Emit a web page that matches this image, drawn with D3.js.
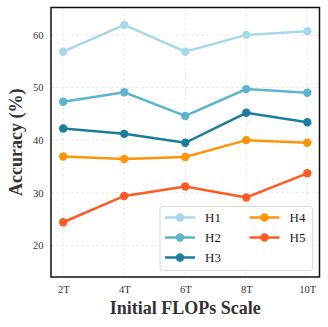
<!DOCTYPE html>
<html>
<head>
<meta charset="utf-8">
<script src="https://cdn.jsdelivr.net/npm/d3@7"></script>
<style>
  body { margin: 0; background: #fff; }
  svg { display: block; font-family: "Liberation Serif", "DejaVu Serif", serif; }
</style>
</head>
<body>
<svg id="chart" width="328" height="327"></svg>
<script>
const categories = ['2T', '4T', '6T', '8T', '10T'];
const seriesNames = ['H1', 'H2', 'H3', 'H4', 'H5'];
const h1 = [56.8, 61.9, 56.8, 60.0, 60.7];
const h2 = [47.3, 49.1, 44.6, 49.7, 49.0];
const h3 = [42.2, 41.2, 39.5, 45.2, 43.4];
const h4 = [36.9, 36.4, 36.8, 40.0, 39.5];
const h5 = [24.4, 29.4, 31.2, 29.1, 33.7];
const yTicks = [20, 30, 40, 50, 60];
const colors = ['#a6d8ea', '#5cb5cc', '#1a7d9c', '#ff9408', '#ff5a24'];

const series = [h1, h2, h3, h4, h5].map((values, i) => ({ name: seriesNames[i], values, color: colors[i] }));

const margin = { top: 7.5, right: 8.5, bottom: 50, left: 51 };
const svg = d3.select('#chart');
const width = 328 - margin.left - margin.right;
const height = 327 - margin.top - margin.bottom;

const g = svg.append('g')
  .attr('transform', `translate(${margin.left},${margin.top})`);

const x = d3.scaleLinear()
  .domain([-0.2, categories.length - 1 + 0.2])
  .range([0, width]);
const y = d3.scaleLinear()
  .domain([14, 65.2])
  .range([height, 0]);

// Grid
g.append('g')
  .selectAll('line.gx')
  .data(categories)
  .join('line')
  .attr('x1', (d, i) => x(i)).attr('x2', (d, i) => x(i))
  .attr('y1', 0).attr('y2', height)
  .attr('stroke', '#e6e6e6').attr('stroke-width', 0.8)
  .attr('stroke-dasharray', '3,2');
g.append('g')
  .selectAll('line.gy')
  .data(yTicks)
  .join('line')
  .attr('x1', 0).attr('x2', width)
  .attr('y1', d => y(d)).attr('y2', d => y(d))
  .attr('stroke', '#e6e6e6').attr('stroke-width', 0.8)
  .attr('stroke-dasharray', '3,2');

// Axes
const xAxis = d3.axisBottom(x)
  .tickValues(d3.range(categories.length))
  .tickFormat(i => categories[i])
  .tickSize(0).tickPadding(9);
g.append('g')
  .attr('transform', `translate(0,${height})`)
  .call(xAxis)
  .call(a => a.select('.domain').remove())
  .selectAll('text')
  .attr('font-size', 10.5).attr('fill', '#333')
  .attr('font-family', '"Liberation Serif", serif');

const yAxis = d3.axisLeft(y)
  .tickValues(yTicks)
  .tickSize(0).tickPadding(7.5);
g.append('g')
  .call(yAxis)
  .call(a => a.select('.domain').remove())
  .selectAll('text')
  .attr('font-size', 10.5).attr('fill', '#333')
  .attr('font-family', '"Liberation Serif", serif');

// Lines and points
const line = d3.line()
  .x((d, i) => x(i))
  .y(d => y(d));

series.forEach(s => {
  g.append('path')
    .datum(s.values)
    .attr('fill', 'none')
    .attr('stroke', s.color)
    .attr('stroke-width', 2.5)
    .attr('d', line);
  g.selectAll(null)
    .data(s.values)
    .join('circle')
    .attr('cx', (d, i) => x(i))
    .attr('cy', d => y(d))
    .attr('r', 4.2)
    .attr('fill', s.color);
});

// Frame
g.append('rect')
  .attr('width', width).attr('height', height)
  .attr('fill', 'none').attr('stroke', '#111').attr('stroke-width', 1.5);

// Legend
const legend = g.append('g')
  .attr('transform', `translate(${160 - margin.left},${206.5 - margin.top})`);
legend.append('rect')
  .attr('width', 152.5).attr('height', 64)
  .attr('rx', 2.5)
  .attr('fill', 'rgba(255,255,255,0.85)')
  .attr('stroke', '#d6d6d6').attr('stroke-width', 0.9);

const items = legend.selectAll('g.item')
  .data(series)
  .join('g')
  .attr('class', 'item')
  .attr('transform', (d, i) => `translate(${i < 3 ? 5 : 89.5},${11 + (i % 3) * 20})`);
items.append('line')
  .attr('x1', 0).attr('x2', 30)
  .attr('stroke', d => d.color).attr('stroke-width', 2.5);
items.append('circle')
  .attr('cx', 15).attr('r', 4.2)
  .attr('fill', d => d.color);
items.append('text')
  .attr('x', 40).attr('dy', '0.35em')
  .attr('font-size', 13).attr('fill', '#222')
  .text(d => d.name);

// Axis titles
svg.append('text')
  .attr('x', margin.left + width / 2)
  .attr('y', 313.5)
  .attr('text-anchor', 'middle')
  .attr('font-size', 18).attr('font-weight', 'bold').attr('fill', '#333')
  .text('Initial FLOPs Scale');

svg.append('text')
  .attr('transform', `translate(21.5,${margin.top + height / 2}) rotate(-90)`)
  .attr('text-anchor', 'middle')
  .attr('font-size', 18).attr('font-weight', 'bold').attr('fill', '#333')
  .text('Accuracy (%)');
</script>
</body>
</html>
